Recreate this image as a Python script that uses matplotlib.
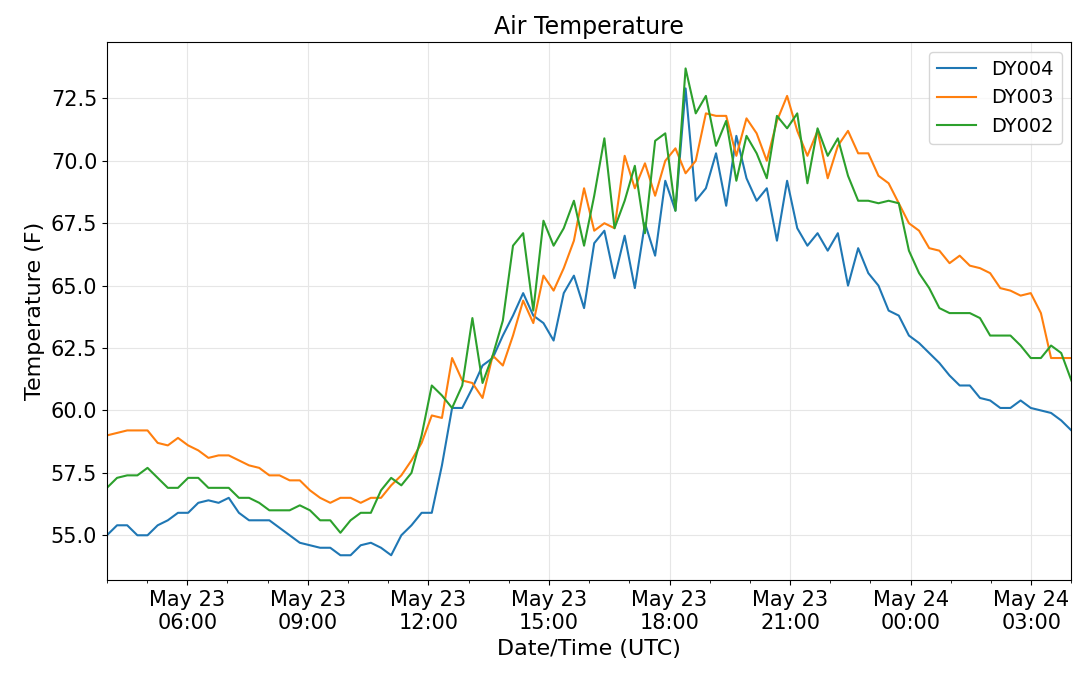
import matplotlib
matplotlib.use('Agg')
import matplotlib.pyplot as plt
import matplotlib.dates as mdates
import pandas as pd

dy004 = [55.0, 55.4, 55.4, 55.0, 55.0, 55.4, 55.6, 55.9, 55.9, 56.3, 56.4, 56.3,
         56.5, 55.9, 55.6, 55.6, 55.6, 55.3, 55.0, 54.7, 54.6, 54.5, 54.5, 54.2,
         54.2, 54.6, 54.7, 54.5, 54.2, 55.0, 55.4, 55.9, 55.9, 57.8, 60.1, 60.1,
         60.9, 61.8, 62.1, 63.0, 63.8, 64.7, 63.8, 63.5, 62.8, 64.7, 65.4, 64.1,
         66.7, 67.2, 65.3, 67.0, 64.9, 67.5, 66.2, 69.2, 68.0, 72.9, 68.4, 68.9,
         70.3, 68.2, 71.0, 69.3, 68.4, 68.9, 66.8, 69.2, 67.3, 66.6, 67.1, 66.4,
         67.1, 65.0, 66.5, 65.5, 65.0, 64.0, 63.8, 63.0, 62.7, 62.3, 61.9, 61.4,
         61.0, 61.0, 60.5, 60.4, 60.1, 60.1, 60.4, 60.1, 60.0, 59.9, 59.6, 59.2]
dy003 = [59.0, 59.1, 59.2, 59.2, 59.2, 58.7, 58.6, 58.9, 58.6, 58.4, 58.1, 58.2,
         58.2, 58.0, 57.8, 57.7, 57.4, 57.4, 57.2, 57.2, 56.8, 56.5, 56.3, 56.5,
         56.5, 56.3, 56.5, 56.5, 57.0, 57.4, 58.0, 58.7, 59.8, 59.7, 62.1, 61.2,
         61.1, 60.5, 62.2, 61.8, 63.0, 64.4, 63.5, 65.4, 64.8, 65.7, 66.8, 68.9,
         67.2, 67.5, 67.3, 70.2, 68.9, 69.9, 68.6, 70.0, 70.5, 69.5, 70.0, 71.9,
         71.8, 71.8, 70.2, 71.7, 71.1, 70.0, 71.6, 72.6, 71.2, 70.2, 71.2, 69.3,
         70.6, 71.2, 70.3, 70.3, 69.4, 69.1, 68.3, 67.5, 67.2, 66.5, 66.4, 65.9,
         66.2, 65.8, 65.7, 65.5, 64.9, 64.8, 64.6, 64.7, 63.9, 62.1, 62.1, 62.1]
dy002 = [56.9, 57.3, 57.4, 57.4, 57.7, 57.3, 56.9, 56.9, 57.3, 57.3, 56.9, 56.9,
         56.9, 56.5, 56.5, 56.3, 56.0, 56.0, 56.0, 56.2, 56.0, 55.6, 55.6, 55.1,
         55.6, 55.9, 55.9, 56.8, 57.3, 57.0, 57.5, 59.0, 61.0, 60.6, 60.1, 61.0,
         63.7, 61.1, 62.2, 63.6, 66.6, 67.1, 64.0, 67.6, 66.6, 67.3, 68.4, 66.6,
         68.6, 70.9, 67.3, 68.4, 69.8, 67.1, 70.8, 71.1, 68.0, 73.7, 71.9, 72.6,
         70.6, 71.6, 69.2, 71.0, 70.3, 69.3, 71.8, 71.3, 71.9, 69.1, 71.3, 70.2,
         70.9, 69.4, 68.4, 68.4, 68.3, 68.4, 68.3, 66.4, 65.5, 64.9, 64.1, 63.9,
         63.9, 63.9, 63.7, 63.0, 63.0, 63.0, 62.6, 62.1, 62.1, 62.6, 62.3, 61.2]

times = pd.date_range('2019-05-23 04:00', '2019-05-24 04:00', periods=len(dy004))

plt.rcParams['font.size'] = 15
fig = plt.figure(figsize=(10.8, 6.81), dpi=100)
ax = fig.add_axes([0.099, 0.148, 0.893, 0.79])

ax.plot(times, dy004, color='#1f77b4', lw=1.5, label='DY004')
ax.plot(times, dy003, color='#ff7f0e', lw=1.5, label='DY003')
ax.plot(times, dy002, color='#2ca02c', lw=1.5, label='DY002')

ax.set_xlim(times[0], times[-1])
ax.set_ylim(53.2, 74.75)
ax.set_yticks([55.0, 57.5, 60.0, 62.5, 65.0, 67.5, 70.0, 72.5])
ax.yaxis.set_major_formatter(matplotlib.ticker.FormatStrFormatter('%.1f'))
ax.xaxis.set_major_locator(mdates.HourLocator(byhour=range(0, 24, 3)))
ax.xaxis.set_minor_locator(mdates.HourLocator())
ax.xaxis.set_major_formatter(mdates.DateFormatter('%b %d\n%H:%M'))
ax.grid(True, which='major', color='#e6e6e6', lw=0.8)

ax.set_title('Air Temperature', fontsize=17)
ax.set_xlabel('Date/Time (UTC)', fontsize=16)
ax.set_ylabel('Temperature (F)', fontsize=16)
ax.legend(loc='upper right', fontsize=14)

fig.savefig('out.png', dpi=100)
